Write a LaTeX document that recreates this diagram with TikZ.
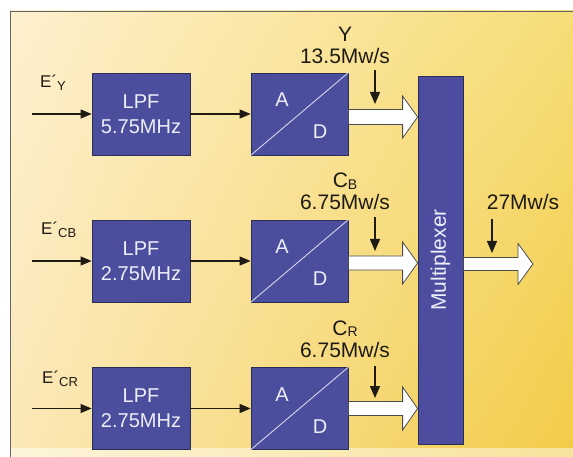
\documentclass[tikz,border=0pt]{standalone}
\usepackage{fontspec}
\setmainfont{Liberation Sans}
\usetikzlibrary{calc,arrows.meta,shadings}
\definecolor{boxblue}{HTML}{4A4E9C}
\definecolor{muxblue}{HTML}{4C4D9E}
\definecolor{boxedge}{HTML}{2B2D55}
\definecolor{boxtext}{HTML}{EEEEFA}
\definecolor{ink}{HTML}{1E1A14}
\definecolor{bgTL}{HTML}{FDF0CE}
\definecolor{bgTR}{HTML}{F7DD78}
\definecolor{bgBL}{HTML}{FBE8B8}
\definecolor{bgBR}{HTML}{F2CC48}
\definecolor{stripL}{HTML}{FDF4DA}
\definecolor{stripR}{HTML}{F6E39C}
\newcommand\fatarrow[4]{% #1 start, #2 tip, #3 shaft half height, #4 head half height
  \draw[fat] ($(#1)+(0,-#3)$) -- ($(#2)+(-15,-#3)$) -- ($(#2)+(-15,-#4)$) -- (#2)
     -- ($(#2)+(-15,#4)$) -- ($(#2)+(-15,#3)$) -- ($(#1)+(0,#3)$) -- cycle;}
\begin{document}
\begin{tikzpicture}[x=1pt,y=-1pt,
  blk/.style={draw=boxedge, line width=0.8pt, fill=boxblue, text=boxtext,
    minimum width=98pt, minimum height=82pt, inner sep=0pt,
    font=\fontsize{20}{25}\selectfont, align=center},
  adtxt/.style={text=boxtext, inner sep=0pt, font=\fontsize{20}{20}\selectfont},
  adline/.style={draw=boxtext!85!boxblue, line width=0.9pt},
  sig/.style={draw=ink, line width=1.2pt, -{Triangle[length=11pt,width=9pt]}},
  down/.style={draw=ink, line width=1.2pt, -{Triangle[length=12pt,width=10pt]}},
  fat/.style={draw=black!70, line width=0.8pt, fill=white},
  lbl/.style={text=ink, inner sep=0pt, anchor=base, font=\fontsize{21}{21}\selectfont},
  elbl/.style={text=ink, inner sep=0pt, anchor=base west, font=\fontsize{17}{17}\selectfont}
]
\useasboundingbox (0,0) rectangle (573,457);
% background
\fill[white] (0,0) rectangle (573,457);
\shade[upper left=bgTL, upper right=bgTR, lower left=bgBL, lower right=bgBR]
  (10,11) rectangle (573,448);
\shade[left color=stripL, right color=stripR] (10,448) rectangle (573,457);
\draw[black!60, line width=0.8pt] (573,11) -- (10,11) -- (10,457);

% filters
\node[blk] (lpf1) at (141,114) {LPF\\5.75MHz};
\node[blk] (lpf2) at (141,261) {LPF\\2.75MHz};
\node[blk] (lpf3) at (141,408.5) {LPF\\2.75MHz};

% A/D converters
\node[blk, minimum width=97pt] (ad1) at (299.5,114) {};
\node[blk, minimum width=97pt] (ad2) at (299.5,261) {};
\node[blk, minimum width=97pt] (ad3) at (299.5,408.5) {};
\foreach \i in {1,2,3}{
  \draw[adline] (ad\i.south west) -- (ad\i.north east);
  \node[adtxt] (a\i) at ($(ad\i)+(-17.5,-14)$) {A};
  \node[adtxt] (d\i) at ($(ad\i)+(20.5,18)$) {D};
}

% multiplexer
\node[blk, fill=muxblue, minimum width=45pt, minimum height=368pt] (mux) at (440.5,260) {};
\node[rotate=90, text=boxtext, inner sep=0pt, font=\fontsize{21}{21}\selectfont] (muxt) at (mux) {Multiplexer};

% input labels
\node[elbl] (e1) at (40,88) {E´\raisebox{-3pt}{\fontsize{13}{13}\selectfont Y}};
\node[elbl] (e2) at (41,235) {E´\raisebox{-3pt}{\fontsize{13}{13}\selectfont CB}};
\node[elbl] (e3) at (42,383) {E´\raisebox{-3pt}{\fontsize{13}{13}\selectfont CR}};

% input arrows
\coordinate (in1) at (32,114);
\coordinate (in2) at (32,261);
\coordinate (in3) at (32,408.5);
\foreach \i in {1,2,3}{
  \draw[sig] (in\i) -- (lpf\i.west);
  \draw[sig] (lpf\i.east) -- (ad\i.west);
}

% fat arrows to multiplexer
\coordinate (s1) at ($(ad1.east)+(0,3)$);
\coordinate (s2) at ($(ad2.east)+(0,2)$);
\coordinate (s3) at ($(ad3.east)+(0,0)$);
\foreach \i in {1,2,3}{
  \coordinate (t\i) at (s\i -| mux.west);
}
\fatarrow{s1}{t1}{7.5}{21}
\fatarrow{s2}{t2}{7}{21}
\fatarrow{s3}{t3}{7}{21.5}

% output fat arrow
\coordinate (os) at (mux.east |- 0,264);
\coordinate (ot) at (533,264);
\fatarrow{os}{ot}{6.5}{20.5}

% rate labels
\node[lbl] (ly) at (345,42) {Y};
\node[lbl] (ry) at (345,64) {13.5Mw/s};
\node[lbl] (lcb) at (345,188) {C\raisebox{-1.5pt}{\fontsize{14}{14}\selectfont B}};
\node[lbl] (rcb) at (345,210) {6.75Mw/s};
\node[lbl] (lcr) at (345,335) {C\raisebox{-1.5pt}{\fontsize{14}{14}\selectfont R}};
\node[lbl] (rcr) at (345,357) {6.75Mw/s};
\node[lbl] (rout) at (523,210) {27Mw/s};

% small down arrows
\coordinate (u1) at (375,70);  \coordinate (v1) at (375,104);
\coordinate (u2) at (375,217); \coordinate (v2) at (375,251);
\coordinate (u3) at (375,366); \coordinate (v3) at (375,398);
\coordinate (u4) at (492,219); \coordinate (v4) at (492,253);
\foreach \i in {1,2,3,4}{
  \draw[down] (u\i) -- (v\i);
}
\end{tikzpicture}
\end{document}
